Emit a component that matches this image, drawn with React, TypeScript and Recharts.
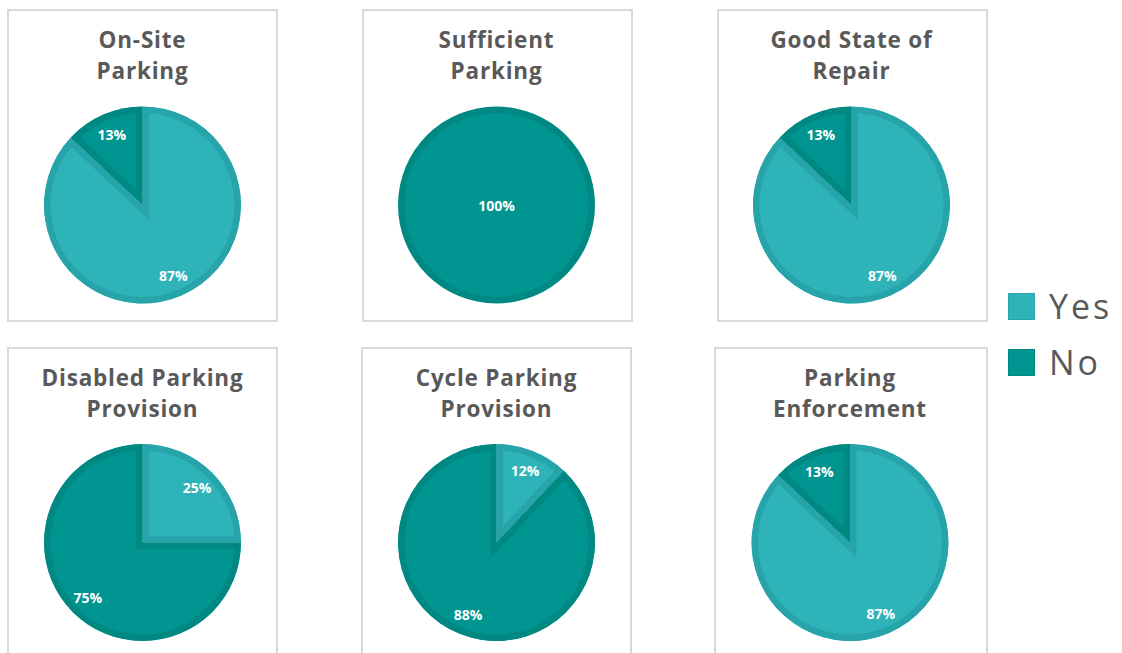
import React from "react";
import { PieChart, Pie, Cell, Sector } from "recharts";

// ---------- data ----------
const categories = [
  "On-Site Parking",
  "Sufficient Parking",
  "Good State of Repair",
  "Disabled Parking Provision",
  "Cycle Parking Provision",
  "Parking Enforcement",
];
const titleLines = [
  ["On-Site", "Parking"],
  ["Sufficient", "Parking"],
  ["Good State of", "Repair"],
  ["Disabled Parking", "Provision"],
  ["Cycle Parking", "Provision"],
  ["Parking", "Enforcement"],
];
const seriesNames = ["Yes", "No"];
const yesValues = [87, 0, 87, 25, 12, 87];
const noValues = [13, 100, 13, 75, 88, 13];

// ---------- styles ----------
const FILLS = ["#2EB3B9", "#009590"];
const BORDERS = ["#27A4AA", "#008883"];
const BW = 6.5;
const R = 98.5;
const FONT = "'Open Sans', 'Noto Sans', sans-serif";
const TITLE_COLOR = "#595959";

const panels = [
  { left: 7, top: 9, w: 271, h: 313, cx: 142.5, cy: 205 },
  { left: 362, top: 9, w: 271, h: 313, cx: 496.5, cy: 205 },
  { left: 717, top: 9, w: 271, h: 313, cx: 851.5, cy: 205 },
  { left: 7, top: 347, w: 271, h: 330, cx: 142.5, cy: 542.5 },
  { left: 361, top: 347, w: 271, h: 330, cx: 496.5, cy: 542.5 },
  { left: 714, top: 347, w: 274, h: 330, cx: 850, cy: 542.5 },
];

function InsetSector(props: any) {
  const { cx, cy, innerRadius, outerRadius, startAngle, endAngle, fill, index, uid } = props;
  const border = (props.payload && props.payload.border) || props.border || fill;
  const id = `clip-${uid}-${index}`;
  const full = Math.abs(endAngle - startAngle) >= 359.9;
  if (full) {
    return (
      <g>
        <circle cx={cx} cy={cy} r={outerRadius} fill={border} />
        <circle cx={cx} cy={cy} r={outerRadius - BW} fill={fill} />
      </g>
    );
  }
  return (
    <g>
      <defs>
        <clipPath id={id}>
          <Sector
            cx={cx}
            cy={cy}
            innerRadius={innerRadius}
            outerRadius={outerRadius}
            startAngle={startAngle}
            endAngle={endAngle}
          />
        </clipPath>
      </defs>
      <g clipPath={`url(#${id})`}>
        <Sector
          cx={cx}
          cy={cy}
          innerRadius={innerRadius}
          outerRadius={outerRadius}
          startAngle={startAngle}
          endAngle={endAngle}
          fill={fill}
          stroke={border}
          strokeWidth={BW * 2}
        />
      </g>
    </g>
  );
}

const renderLabel = (p: any) => {
  const { cx, cy, midAngle, outerRadius, percent, value } = p;
  if (!value) return null;
  let x = cx;
  let y = cy;
  if (percent < 0.999) {
    const r = outerRadius * 0.785;
    x = cx + r * Math.cos((-midAngle * Math.PI) / 180);
    y = cy + r * Math.sin((-midAngle * Math.PI) / 180);
  }
  return (
    <text
      x={x}
      y={y}
      fill="#ffffff"
      stroke="none"
      textAnchor="middle"
      dominantBaseline="central"
      fontFamily={FONT}
      fontWeight={700}
      fontSize={14}
    >
      {`${Math.round(percent * 100)}%`}
    </text>
  );
};

function PanelChart({ i }: { i: number }) {
  const p = panels[i];
  const values = [yesValues[i], noValues[i]];
  const data = seriesNames
    .map((name, k) => ({ name, value: values[k], fill: FILLS[k], border: BORDERS[k] }))
    .filter((d) => d.value > 0);
  return (
    <>
      <div
        style={{
          position: "absolute",
          left: p.left,
          top: p.top,
          width: p.w - 4,
          height: p.h - 4,
          border: "2px solid #D9D9D9",
        }}
      />
      <div
        style={{
          position: "absolute",
          left: p.cx - 140,
          width: 280,
          top: p.top + 15,
          textAlign: "center",
          fontFamily: FONT,
          fontWeight: 700,
          fontSize: 22.5,
          letterSpacing: 0.8,
          lineHeight: "31px",
          color: TITLE_COLOR,
        }}
        title={categories[i]}
      >
        {titleLines[i].map((t, k) => (
          <div key={k}>{t}</div>
        ))}
      </div>
      <div style={{ position: "absolute", left: p.left, top: p.top }}>
        <PieChart width={p.w} height={p.h} margin={{ top: 0, right: 0, bottom: 0, left: 0 }}>
          <Pie
            data={data}
            dataKey="value"
            nameKey="name"
            cx={p.cx - p.left}
            cy={p.cy - p.top}
            innerRadius={0}
            outerRadius={R}
            startAngle={90}
            endAngle={-270}
            isAnimationActive={false}
            labelLine={false}
            label={renderLabel}
            stroke="none"
            shape={(sp: any) => <InsetSector {...sp} uid={`p${i}`} />}
          >
            {data.map((d, k) => (
              <Cell key={k} fill={d.fill} />
            ))}
          </Pie>
        </PieChart>
      </div>
    </>
  );
}

export default function App() {
  return (
    <div
      style={{
        position: "fixed",
        left: 0,
        top: 0,
        width: 1122,
        height: 653,
        overflow: "hidden",
        background: "#ffffff",
      }}
    >
      {panels.map((_, i) => (
        <PanelChart key={i} i={i} />
      ))}
      {seriesNames.map((name, k) => (
        <div
          key={name}
          style={{
            position: "absolute",
            left: 1008,
            top: 292 + k * 56,
            height: 28,
            display: "flex",
            alignItems: "center",
          }}
        >
          <div
            style={{
              width: 25,
              height: 25,
              background: FILLS[k],
              border: `1px solid ${BORDERS[k]}`,
              marginRight: 14,
            }}
          />
          <span
            style={{
              fontFamily: FONT,
              fontSize: 34,
              letterSpacing: 3,
              color: TITLE_COLOR,
              lineHeight: "28px",
            }}
          >
            {name}
          </span>
        </div>
      ))}
    </div>
  );
}
